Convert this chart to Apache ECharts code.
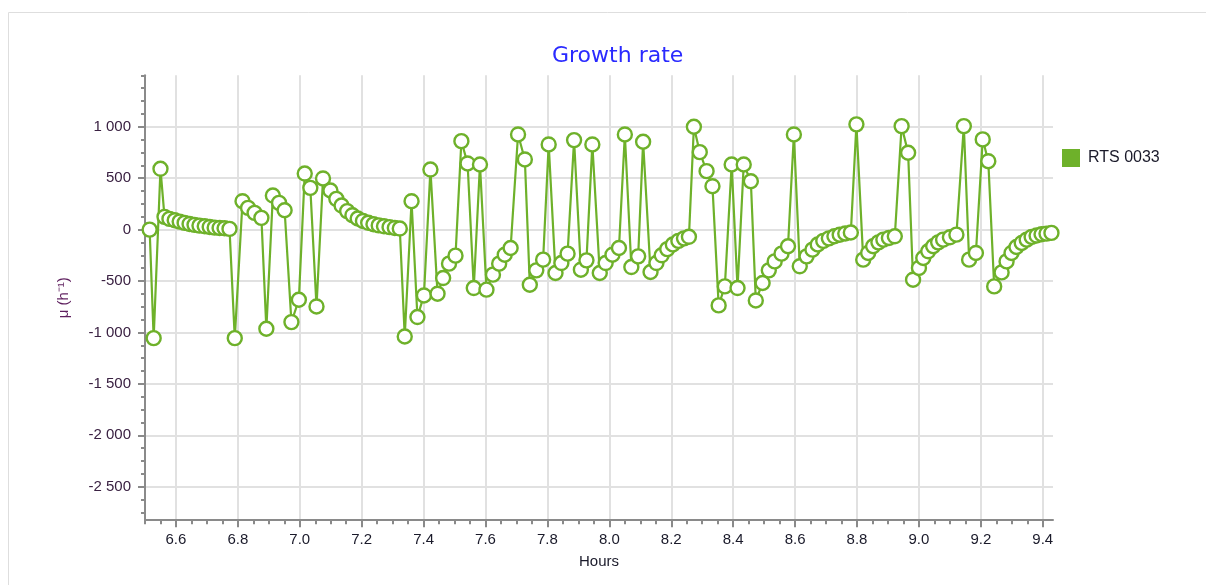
<!DOCTYPE html>
<html>
<head>
<meta charset="utf-8">
<title>Growth rate</title>
<script src="https://cdn.jsdelivr.net/npm/echarts@6/dist/echarts.min.js"></script>
<style>
  html, body { margin: 0; padding: 0; background: #fff; }
  #chart { width: 1206px; height: 585px; }
</style>
</head>
<body>
<div id="chart"></div>
<script>
// Sample times (hours)
const hours = [
  6.515, 6.528, 6.550, 6.563, 6.579, 6.596, 6.612, 6.628, 6.644, 6.660, 6.676, 6.693, 6.709, 6.725, 6.741, 6.757, 6.773,
  6.790, 6.815, 6.833, 6.854, 6.876, 6.892, 6.913, 6.933, 6.951, 6.973, 6.997, 7.016, 7.034, 7.054, 7.075, 7.099,
  7.118, 7.135, 7.153, 7.170, 7.187, 7.204, 7.221, 7.238, 7.255, 7.272, 7.290, 7.307, 7.323,
  7.339, 7.361, 7.380, 7.401, 7.422, 7.445, 7.463, 7.482, 7.503, 7.522, 7.542, 7.562, 7.582, 7.603, 7.624, 7.644,
  7.662, 7.681, 7.705, 7.727, 7.743, 7.764, 7.786, 7.804, 7.826, 7.845, 7.865, 7.886, 7.908, 7.926, 7.945, 7.969,
  7.988, 8.010, 8.031, 8.050, 8.071, 8.093, 8.109, 8.133, 8.152, 8.169, 8.187, 8.205, 8.223, 8.241, 8.257,
  8.273, 8.292, 8.314, 8.333, 8.353, 8.373, 8.395, 8.414, 8.434, 8.457, 8.473, 8.495, 8.515, 8.534, 8.556, 8.577,
  8.596, 8.615, 8.637, 8.656, 8.673, 8.691, 8.709, 8.727, 8.744, 8.762, 8.780,
  8.798, 8.820, 8.836, 8.852, 8.869, 8.885, 8.903, 8.922,
  8.944, 8.965, 8.981, 9.000, 9.014, 9.030, 9.046, 9.062, 9.078, 9.100, 9.121,
  9.145, 9.162, 9.184, 9.206, 9.224, 9.243, 9.267, 9.283, 9.299, 9.315, 9.332, 9.348, 9.364, 9.380, 9.396, 9.412, 9.428
];

// Specific growth rate μ (h⁻¹)
const growthRate = [
  0, -1055, 591, 124, 104, 91, 78, 65, 55, 46, 39, 32, 26, 19, 16, 13, 7,
  -1055, 276, 211, 163, 114, -964, 331, 260, 188, -899, -682, 545, 406, -747, 497, 380,
  299, 234, 180, 140, 108, 84, 66, 52, 41, 32, 24, 16, 10,
  -1039, 276, -850, -640, 584, -623, -471, -331, -253, 860, 643, -568, 633, -584, -438, -331,
  -244, -179, 925, 682, -536, -396, -292, 828, -422, -325, -234, 870, -390, -299, 828, -422,
  -325, -244, -179, 925, -364, -260, 854, -412, -325, -250, -190, -145, -110, -85, -70,
  1000, 753, 568, 422, -737, -552, 633, -568, 633, 470, -689, -519, -396, -309, -234, -162,
  925, -357, -260, -195, -145, -110, -85, -65, -50, -38, -28,
  1023, -292, -227, -162, -124, -97, -81, -65,
  1006, 747, -487, -373, -276, -211, -162, -124, -97, -75, -49,
  1006, -292, -227, 877, 665, -552, -416, -309, -227, -169, -130, -97, -71, -58, -45, -39, -32
];

const seriesName = 'RTS 0033';
const xTickLabels = [6.6, 6.8, 7.0, 7.2, 7.4, 7.6, 7.8, 8.0, 8.2, 8.4, 8.6, 8.8, 9.0, 9.2, 9.4];
const yTickLabels = [-2500, -2000, -1500, -1000, -500, 0, 500, 1000];

const X_MIN = 6.5, X_MAX = 9.433;
const Y_MIN = -2825, Y_MAX = 1500;

// Minor tick positions along each axis
const xMinor = [];
for (let i = Math.ceil(X_MIN / 0.05); i * 0.05 <= X_MAX + 1e-9; i++) xMinor.push(+(i * 0.05).toFixed(2));
const yMinor = [];
for (let i = Math.ceil(Y_MIN / 125); i * 125 <= Y_MAX; i++) yMinor.push(i * 125);

const GREEN = '#6eb12a';
const AXIS_GREY = '#8a8a8a';
const GRID_GREY = '#e1e1e1';
const FONT = '"Liberation Sans", Arial, sans-serif';

function groupThousands(v) {
  const s = String(Math.abs(v)).replace(/\B(?=(\d{3})+(?!\d))/g, ' ');
  return (v < 0 ? '-' : '') + s;
}

const chart = echarts.init(document.getElementById('chart'), null, { renderer: 'canvas' });

chart.setOption({
  backgroundColor: '#fff',
  animation: false,
  title: {
    text: 'Growth rate',
    left: 547,
    top: 40,
    textStyle: { color: '#2a2aff', fontSize: 22, fontWeight: 'normal', fontFamily: '"DejaVu Sans", Verdana, sans-serif' }
  },
  legend: {
    data: [seriesName],
    left: 1057,
    top: 144,
    icon: 'rect',
    itemWidth: 18,
    itemHeight: 18,
    itemStyle: { color: GREEN, borderWidth: 0 },
    textStyle: { color: '#1a1a2a', fontSize: 16, fontFamily: FONT, padding: [0, 0, 0, 3] }
  },
  graphic: [{
    type: 'rect',
    shape: { x: 8.5, y: 12.5, width: 1300, height: 700 },
    style: { fill: 'none', stroke: '#dedede', lineWidth: 1 },
    silent: true,
    z: -10
  }],
  grid: { left: 145, top: 75.3, width: 908, height: 444.9, containLabel: false },
  xAxis: [{
    type: 'value',
    min: X_MIN,
    max: X_MAX,
    position: 'bottom',
    name: 'Hours',
    nameLocation: 'middle',
    nameGap: 34,
    nameTextStyle: { color: '#1a1a2a', fontSize: 15, fontFamily: FONT },
    axisLine: { show: true, onZero: false, lineStyle: { color: AXIS_GREY, width: 2 } },
    axisTick: { show: true, customValues: xTickLabels, length: 7, lineStyle: { color: AXIS_GREY, width: 2 } },
    axisLabel: {
      customValues: xTickLabels,
      margin: 12,
      color: '#1a1a2a',
      fontSize: 15,
      fontFamily: FONT,
      formatter: v => v.toFixed(1)
    },
    splitLine: { show: true, lineStyle: { color: GRID_GREY, width: 2 } }
  }, {
    type: 'value',
    min: X_MIN,
    max: X_MAX,
    position: 'bottom',
    axisLine: { show: false, onZero: false },
    axisTick: { show: true, customValues: xMinor, length: 4, lineStyle: { color: AXIS_GREY, width: 2 } },
    axisLabel: { show: false },
    splitLine: { show: false }
  }],
  yAxis: [{
    type: 'value',
    min: Y_MIN,
    max: Y_MAX,
    position: 'left',
    name: 'μ (h⁻¹)',
    nameLocation: 'middle',
    nameGap: 74,
    nameTextStyle: { color: '#5e1f5e', fontSize: 15, fontFamily: FONT },
    axisLine: { show: true, onZero: false, lineStyle: { color: AXIS_GREY, width: 2 } },
    axisTick: { show: true, customValues: yTickLabels, length: 7, lineStyle: { color: AXIS_GREY, width: 2 } },
    axisLabel: {
      customValues: yTickLabels,
      margin: 14,
      color: '#3a2142',
      fontSize: 15,
      fontFamily: FONT,
      formatter: groupThousands
    },
    splitLine: { show: true, lineStyle: { color: GRID_GREY, width: 2 } }
  }, {
    type: 'value',
    min: Y_MIN,
    max: Y_MAX,
    position: 'left',
    axisLine: { show: false, onZero: false },
    axisTick: { show: true, customValues: yMinor, length: 4, lineStyle: { color: AXIS_GREY, width: 2 } },
    axisLabel: { show: false },
    splitLine: { show: false }
  }],
  series: [{
    name: seriesName,
    type: 'line',
    xAxisIndex: 0,
    yAxisIndex: 0,
    data: hours.map((h, i) => [h, growthRate[i]]),
    symbol: 'circle',
    symbolSize: 14,
    showAllSymbol: true,
    clip: true,
    color: GREEN,
    lineStyle: { color: GREEN, width: 2.2 },
    itemStyle: { color: '#fff', borderColor: GREEN, borderWidth: 2.4 },
    emphasis: { disabled: true }
  }]
});
</script>
</body>
</html>
